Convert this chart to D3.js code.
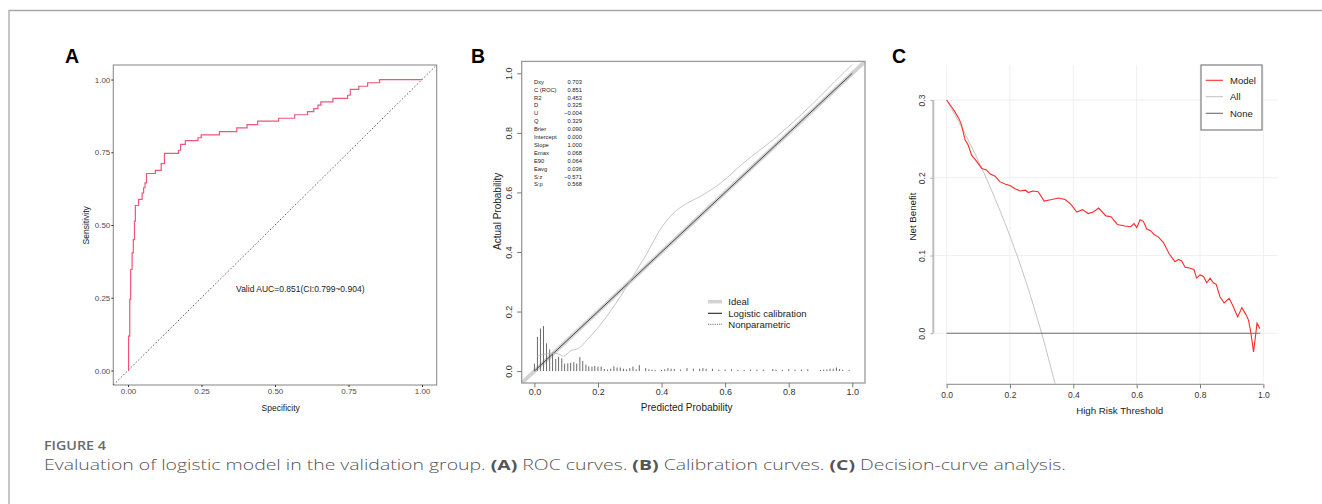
<!DOCTYPE html>
<html>
<head>
<meta charset="utf-8">
<script src="https://cdn.jsdelivr.net/npm/d3@7"></script>
<style>
  body { margin: 0; background: #fff; }
  svg text { font-family: "Liberation Sans", Arial, sans-serif; }
  svg text.cap { font-family: "Open Sans", "Noto Sans", sans-serif; }
</style>
</head>
<body>
<svg id="fig" width="1322" height="504"></svg>
<script>
// ---------- panel A : ROC ----------
const rocFpr = [0, 0.002, 0.006, 0.009, 0.014, 0.018, 0.022, 0.025, 0.036, 0.048, 0.053, 0.058, 0.063,
  0.093, 0.113, 0.124, 0.172, 0.179, 0.195, 0.238, 0.249, 0.311, 0.37, 0.405, 0.441, 0.512, 0.567,
  0.611, 0.632, 0.646, 0.656, 0.697, 0.747, 0.756, 0.785, 0.815, 0.856, 1.0];
const rocTpr = [0, 0.118, 0.244, 0.347, 0.404, 0.45, 0.513, 0.567, 0.588, 0.61, 0.628, 0.645, 0.677,
  0.688, 0.711, 0.746, 0.757, 0.777, 0.79, 0.8, 0.81, 0.821, 0.834, 0.845, 0.857, 0.867, 0.879,
  0.89, 0.9, 0.912, 0.923, 0.935, 0.946, 0.966, 0.977, 0.989, 1.0, 1.0];
const rocTicks = [0, 0.25, 0.5, 0.75, 1];
const aucLabel = "Valid AUC=0.851(CI:0.799~0.904)";

// ---------- panel B : calibration ----------
const calStatNames = ["Dxy", "C (ROC)", "R2", "D", "U", "Q", "Brier", "Intercept", "Slope", "Emax", "E90", "Eavg", "S:z", "S:p"];
const calStatValues = ["0.703", "0.851", "0.453", "0.325", "\u22120.004", "0.329", "0.090", "0.000", "1.000", "0.068", "0.064", "0.036", "\u22120.571", "0.568"];
const npPred = [0.008, 0.05, 0.071, 0.092, 0.113, 0.139, 0.165, 0.207, 0.249, 0.29, 0.322, 0.354, 0.395,
  0.437, 0.479, 0.521, 0.584, 0.657, 0.762, 0.866, 0.971, 1.0];
const npObs = [0.05, 0.059, 0.059, 0.05, 0.068, 0.076, 0.104, 0.155, 0.216, 0.283, 0.339, 0.395, 0.474,
  0.53, 0.563, 0.586, 0.63, 0.698, 0.787, 0.888, 1.0, 1.03];
const spikeX = [0, 0.0095, 0.019, 0.0286, 0.038, 0.048, 0.057, 0.067, 0.076, 0.086, 0.095, 0.105, 0.114,
  0.124, 0.133, 0.143, 0.152, 0.162, 0.171, 0.181, 0.19, 0.2, 0.21, 0.22, 0.23, 0.24, 0.25, 0.26, 0.27,
  0.28, 0.29, 0.3, 0.31, 0.32, 0.33, 0.35, 0.36, 0.37, 0.38, 0.4, 0.41, 0.42, 0.43, 0.44, 0.46, 0.48,
  0.5, 0.52, 0.53, 0.54, 0.56, 0.58, 0.6, 0.62, 0.64, 0.66, 0.68, 0.7, 0.72, 0.75, 0.76, 0.78, 0.8,
  0.82, 0.84, 0.86, 0.9, 0.91, 0.92, 0.93, 0.94, 0.95, 0.96, 0.97, 0.99];
const spikeH = [0.025, 0.115, 0.143, 0.151, 0.093, 0.073, 0.062, 0.041, 0.048, 0.043, 0.025, 0.026, 0.028,
  0.03, 0.025, 0.047, 0.034, 0.022, 0.016, 0.015, 0.017, 0.015, 0.015, 0.007, 0.005, 0.008, 0.016, 0.012,
  0.012, 0.008, 0.006, 0.01, 0.015, 0.006, 0.02, 0.01, 0.006, 0.005, 0.004, 0.004, 0.006, 0.01, 0.008,
  0.007, 0.005, 0.01, 0.008, 0.008, 0.01, 0.008, 0.008, 0.005, 0.005, 0.006, 0.004, 0.004, 0.005, 0.005,
  0.005, 0.007, 0.005, 0.004, 0.006, 0.005, 0.005, 0.006, 0.004, 0.005, 0.005, 0.008, 0.008, 0.012,
  0.007, 0.004, 0.004];
const calTicks = [0, 0.2, 0.4, 0.6, 0.8, 1.0];
const calLegend = ["Ideal", "Logistic calibration", "Nonparametric"];

// ---------- panel C : decision curve ----------
const dcaThreshold = [0, 0.016, 0.026, 0.039, 0.047, 0.058, 0.068, 0.079, 0.095, 0.111, 0.126, 0.137, 0.153,
  0.168, 0.184, 0.2, 0.216, 0.232, 0.249, 0.258, 0.272, 0.289, 0.308, 0.332, 0.353, 0.374, 0.392, 0.411,
  0.429, 0.447, 0.463, 0.48, 0.503, 0.519, 0.539, 0.563, 0.581, 0.592, 0.6, 0.611, 0.621, 0.632, 0.644,
  0.655, 0.668, 0.684, 0.703, 0.721, 0.732, 0.742, 0.753, 0.766, 0.781, 0.789, 0.8, 0.811, 0.821, 0.832,
  0.842, 0.851, 0.863, 0.876, 0.892, 0.903, 0.919, 0.932, 0.945, 0.953, 0.96, 0.969, 0.98, 0.989];
const dcaModel = [0.3, 0.291, 0.285, 0.276, 0.268, 0.249, 0.242, 0.229, 0.221, 0.212, 0.21, 0.205, 0.202,
  0.195, 0.192, 0.19, 0.186, 0.183, 0.184, 0.181, 0.183, 0.182, 0.17, 0.172, 0.174, 0.172, 0.166, 0.156,
  0.159, 0.154, 0.156, 0.161, 0.151, 0.15, 0.14, 0.138, 0.137, 0.141, 0.136, 0.146, 0.144, 0.134, 0.132,
  0.127, 0.124, 0.117, 0.102, 0.092, 0.095, 0.093, 0.085, 0.084, 0.082, 0.071, 0.075, 0.073, 0.065, 0.071,
  0.065, 0.063, 0.047, 0.039, 0.045, 0.036, 0.021, 0.033, 0.024, 0.017, 0.002, -0.024, 0.013, 0.006];
const allThreshold = [0, 0.05, 0.1, 0.15, 0.2, 0.25, 0.3, 0.35];
const allBenefit = [0.3, 0.263, 0.222, 0.176, 0.125, 0.067, 0.0, -0.077];
const noneThreshold = [0, 0.99];
const noneBenefit = [0, 0];
const dcaXTicks = [0, 0.2, 0.4, 0.6, 0.8, 1.0];
const dcaYTicks = [0, 0.1, 0.2, 0.3];
const dcaLegend = ["Model", "All", "None"];
const dcaColors = ["#ff2a2a", "#c4c4c4", "#6e6e6e"];

const svg = d3.select("#fig");

// outer frame of the figure
svg.append("path")
  .attr("d", "M9,504V10.5H1322")
  .attr("fill", "none")
  .attr("stroke", "#a8a8a8")
  .attr("stroke-width", 1.3);

function panelLabel(txt, x) {
  svg.append("text").attr("x", x).attr("y", 63)
    .attr("font-size", 19.5).attr("font-weight", "bold").attr("fill", "#000").text(txt);
}

function styleAxis(g, fs, tickCol, txtCol) {
  g.select(".domain").remove();
  g.selectAll(".tick line").attr("stroke", tickCol);
  g.selectAll(".tick text").attr("font-size", fs).attr("fill", txtCol);
}

// ================= A =================
panelLabel("A", 65);
const xA = d3.scaleLinear().domain([-0.05, 1.05]).range([113.3, 436.7]);
const yA = d3.scaleLinear().domain([-0.05, 1.05]).range([385, 65]);

svg.append("rect").attr("x", xA(-0.05)).attr("y", yA(1.05))
  .attr("width", xA(1.05) - xA(-0.05)).attr("height", yA(-0.05) - yA(1.05))
  .attr("fill", "none").attr("stroke", "#8e8e8e").attr("stroke-width", 1.1);

svg.append("g").attr("transform", `translate(0,${yA(-0.05)})`)
  .call(d3.axisBottom(xA).tickValues(rocTicks).tickFormat(d3.format(".2f")).tickSize(2).tickPadding(1.5))
  .call(g => styleAxis(g, 8, "#333", "#4d4d4d"));
svg.append("g").attr("transform", `translate(${xA(-0.05)},0)`)
  .call(d3.axisLeft(yA).tickValues(rocTicks).tickFormat(d3.format(".2f")).tickSize(2).tickPadding(1))
  .call(g => styleAxis(g, 8, "#333", "#4d4d4d"));

svg.append("line")
  .attr("x1", xA(-0.05)).attr("y1", yA(-0.05)).attr("x2", xA(1.05)).attr("y2", yA(1.05))
  .attr("stroke", "#555").attr("stroke-width", 0.9).attr("stroke-dasharray", "1.6,1.9");

const rocLine = d3.line().x((d, i) => xA(rocFpr[i])).y(d => yA(d)).curve(d3.curveStepAfter);
svg.append("path").datum(rocTpr).attr("d", rocLine)
  .attr("fill", "none").attr("stroke", "#f0557a").attr("stroke-width", 1.2);

svg.append("text").attr("x", xA(0.586)).attr("y", yA(0.28) + 3)
  .attr("text-anchor", "middle").attr("font-size", 8.5).attr("fill", "#222").text(aucLabel);

svg.append("text").attr("x", 280.7).attr("y", 411).attr("text-anchor", "middle")
  .attr("font-size", 8.5).attr("fill", "#222").text("Specificity");
svg.append("text").attr("transform", "translate(89,225.3) rotate(-90)").attr("text-anchor", "middle")
  .attr("font-size", 8.5).attr("fill", "#222").text("Sensitivity");

// ================= B =================
panelLabel("B", 471);
const xB = d3.scaleLinear().domain([-0.04, 1.04]).range([521.7, 865]);
const yB = d3.scaleLinear().domain([-0.04, 1.04]).range([383, 61.4]);

svg.append("clipPath").attr("id", "clipB").append("rect")
  .attr("x", xB(-0.04)).attr("y", yB(1.04)).attr("width", xB(1.04) - xB(-0.04)).attr("height", yB(-0.04) - yB(1.04));

const gB = svg.append("g").attr("clip-path", "url(#clipB)");
// ideal
gB.append("line").attr("x1", xB(-0.04)).attr("y1", yB(-0.04)).attr("x2", xB(1.04)).attr("y2", yB(1.04))
  .attr("stroke", "#d2d2d2").attr("stroke-width", 4);
// spikes
gB.selectAll(".spike").data(spikeX).enter().append("line").attr("class", "spike")
  .attr("x1", d => xB(d)).attr("x2", d => xB(d))
  .attr("y1", yB(0)).attr("y2", (d, i) => yB(spikeH[i]))
  .attr("stroke", "#5a5a5a").attr("stroke-width", 0.9);
// logistic calibration
gB.append("line").attr("x1", xB(0)).attr("y1", yB(0)).attr("x2", xB(1)).attr("y2", yB(1))
  .attr("stroke", "#4a4a4a").attr("stroke-width", 1);
// nonparametric
gB.append("path").datum(npObs)
  .attr("d", d3.line().x((d, i) => xB(npPred[i])).y(d => yB(d)).curve(d3.curveMonotoneX))
  .attr("fill", "none").attr("stroke", "#b8b8b8").attr("stroke-width", 0.8);

svg.append("rect").attr("x", xB(-0.04)).attr("y", yB(1.04))
  .attr("width", xB(1.04) - xB(-0.04)).attr("height", yB(-0.04) - yB(1.04))
  .attr("fill", "none").attr("stroke", "#9a9a9a").attr("stroke-width", 1.3);

svg.append("g").attr("transform", `translate(0,${yB(-0.04)})`)
  .call(d3.axisBottom(xB).tickValues(calTicks).tickFormat(d3.format(".1f")).tickSize(4.5).tickPadding(1.2))
  .call(g => styleAxis(g, 9, "#777", "#333"));
svg.append("g").attr("transform", `translate(${xB(-0.04)},0)`)
  .call(d3.axisLeft(yB).tickValues(calTicks).tickFormat(d3.format(".1f")).tickSize(4.5))
  .call(g => styleAxis(g, 9, "#777", "#333"))
  .call(g => g.selectAll(".tick text").attr("x", null).attr("dy", null)
    .attr("text-anchor", "middle").attr("transform", "translate(-9.5,0) rotate(-90)"));

svg.append("text").attr("x", 686.7).attr("y", 411).attr("text-anchor", "middle")
  .attr("font-size", 10).attr("fill", "#222").text("Predicted Probability");
svg.append("text").attr("transform", "translate(500.5,211.3) rotate(-90)").attr("text-anchor", "middle")
  .attr("font-size", 10).attr("fill", "#222").text("Actual Probability");

// stats block
const stats = svg.append("g").attr("font-size", 5.8).attr("fill", "#222");
calStatNames.forEach((n, i) => {
  const y = 81.7 + i * 7.9 + 2;
  stats.append("text").attr("x", 534).attr("y", y).text(n);
  stats.append("text").attr("x", 582).attr("y", y).attr("text-anchor", "end").text(calStatValues[i]);
});

// legend B
const legB = svg.append("g");
const legBStyles = [
  { stroke: "#d2d2d2", w: 3.5, dash: null },
  { stroke: "#222", w: 1.1, dash: null },
  { stroke: "#555", w: 0.8, dash: "1.2,1" }
];
calLegend.forEach((t, i) => {
  const cy = [301.7, 313.3, 324.3][i];
  legB.append("line").attr("x1", 708).attr("x2", 722).attr("y1", cy).attr("y2", cy)
    .attr("stroke", legBStyles[i].stroke).attr("stroke-width", legBStyles[i].w)
    .attr("stroke-dasharray", legBStyles[i].dash);
  legB.append("text").attr("x", 728.3).attr("y", cy + 3.4).attr("font-size", 9.5).attr("fill", "#222").text(t);
});

// ================= C =================
panelLabel("C", 892);
const xC = d3.scaleLinear().domain([-0.042, 1.043]).range([933.3, 1277]);
const yC = d3.scaleLinear().domain([-0.0656, 0.345]).range([384.3, 65]);

// grid
svg.append("g").selectAll("line").data(dcaXTicks).enter().append("line")
  .attr("x1", d => xC(d)).attr("x2", d => xC(d)).attr("y1", yC(0.345)).attr("y2", yC(-0.0656))
  .attr("stroke", "#ececec").attr("stroke-width", 0.8);
svg.append("g").selectAll("line").data(dcaYTicks).enter().append("line")
  .attr("x1", xC(-0.042)).attr("x2", xC(1.043)).attr("y1", d => yC(d)).attr("y2", d => yC(d))
  .attr("stroke", "#ececec").attr("stroke-width", 0.8);

svg.append("g").attr("transform", `translate(0,${yC(-0.0656)})`)
  .call(d3.axisBottom(xC).tickValues(dcaXTicks).tickFormat(d3.format(".1f")).tickSize(4).tickPadding(3.5))
  .call(g => styleAxis(g, 8.5, "#777", "#333"));
svg.append("line").attr("x1", xC(0)).attr("x2", xC(1)).attr("y1", yC(-0.0656)).attr("y2", yC(-0.0656))
  .attr("stroke", "#888").attr("stroke-width", 1);
svg.append("g").attr("transform", `translate(${xC(-0.042)},0)`)
  .call(d3.axisLeft(yC).tickValues(dcaYTicks).tickFormat(d3.format(".1f")).tickSize(3))
  .call(g => styleAxis(g, 8.5, "#aaa", "#333"))
  .call(g => g.selectAll(".tick text").attr("x", null).attr("dy", null)
    .attr("text-anchor", "middle").attr("transform", "translate(-8.5,0) rotate(-90)"));
svg.append("line").attr("x1", xC(-0.042)).attr("x2", xC(-0.042)).attr("y1", yC(0)).attr("y2", yC(0.3))
  .attr("stroke", "#bdbdbd").attr("stroke-width", 2);

svg.append("clipPath").attr("id", "clipC").append("rect")
  .attr("x", xC(-0.042)).attr("y", yC(0.345)).attr("width", xC(1.043) - xC(-0.042)).attr("height", yC(-0.0656) - yC(0.345));
const gC = svg.append("g").attr("clip-path", "url(#clipC)");

gC.append("path").datum(allBenefit)
  .attr("d", d3.line().x((d, i) => xC(allThreshold[i])).y(d => yC(d)).curve(d3.curveMonotoneX))
  .attr("fill", "none").attr("stroke", dcaColors[1]).attr("stroke-width", 1);
gC.append("path").datum(noneBenefit)
  .attr("d", d3.line().x((d, i) => xC(noneThreshold[i])).y(d => yC(d)))
  .attr("fill", "none").attr("stroke", dcaColors[2]).attr("stroke-width", 1.1);
gC.append("path").datum(dcaModel)
  .attr("d", d3.line().x((d, i) => xC(dcaThreshold[i])).y(d => yC(d)))
  .attr("fill", "none").attr("stroke", dcaColors[0]).attr("stroke-width", 1.1);

svg.append("text").attr("x", 1119.7).attr("y", 413.5).attr("text-anchor", "middle")
  .attr("font-size", 9.7).attr("fill", "#222").text("High Risk Threshold");
svg.append("text").attr("transform", "translate(916.3,216.5) rotate(-90)").attr("text-anchor", "middle")
  .attr("font-size", 9.7).attr("fill", "#222").text("Net Benefit");

// legend C
svg.append("rect").attr("x", 1201).attr("y", 65).attr("width", 61).attr("height", 65)
  .attr("fill", "#fff").attr("stroke", "#888").attr("stroke-width", 1.3);
dcaLegend.forEach((t, i) => {
  const cy = [80.3, 96.7, 113.3][i];
  svg.append("line").attr("x1", 1205.7).attr("x2", 1223).attr("y1", cy).attr("y2", cy)
    .attr("stroke", dcaColors[i]).attr("stroke-width", 1.1);
  svg.append("text").attr("x", 1230).attr("y", cy + 3.4).attr("font-size", 9.5).attr("fill", "#222").text(t);
});

// ================= caption =================
svg.append("text").attr("class", "cap").attr("x", 44).attr("y", 450)
  .attr("font-size", 12).attr("font-weight", 600).attr("fill", "#6a6a6a")
  .attr("textLength", 62).attr("lengthAdjust", "spacingAndGlyphs").text("FIGURE 4");
const cap = svg.append("text").attr("class", "cap").attr("x", 44).attr("y", 470)
  .attr("font-size", 15).attr("font-weight", 300).attr("fill", "#555")
  .attr("textLength", 1022).attr("lengthAdjust", "spacingAndGlyphs");
[["Evaluation of logistic model in the validation group. ", false], ["(A)", true], [" ROC curves. ", false],
 ["(B)", true], [" Calibration curves. ", false], ["(C)", true], [" Decision-curve analysis.", false]]
  .forEach(([t, b]) => cap.append("tspan").attr("font-weight", b ? 700 : 300).text(t));
</script>
</body>
</html>
